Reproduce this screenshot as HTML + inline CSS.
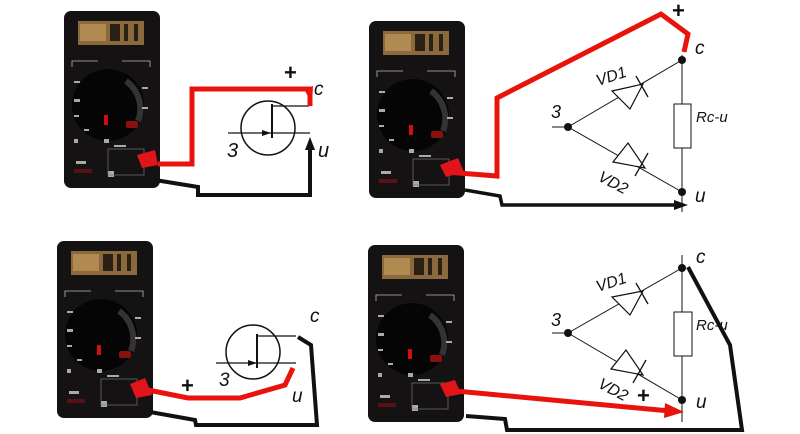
<!DOCTYPE html>
<html><head><meta charset="utf-8"><style>
html,body{margin:0;padding:0;background:#fff;}
svg{display:block;}
text{font-family:"Liberation Sans",sans-serif;font-style:italic;fill:#111;}
</style></head><body>
<svg width="800" height="434" viewBox="0 0 800 434" xmlns="http://www.w3.org/2000/svg">
<defs>
<g id="m">
<rect x="0" y="0" width="96" height="177" rx="7" fill="#141212"/>
<rect x="14" y="10" width="66" height="24" fill="#8a6a3c"/>
<rect x="16" y="13" width="26" height="17" fill="#b08a50"/>
<rect x="46" y="13" width="10" height="17" fill="#2a2016"/>
<rect x="60" y="13" width="4" height="17" fill="#2a2016"/>
<rect x="70" y="13" width="4" height="17" fill="#2a2016"/>
<circle cx="44" cy="94" r="36" fill="#050505"/>
<path d="M62 70 A34 34 0 0 1 74 110" stroke="#333" stroke-width="6" fill="none"/>
<rect x="40" y="104" width="4" height="10" fill="#d01010"/>
<rect x="62" y="110" width="12" height="7" rx="2" fill="#8a1010"/>
<path d="M8 56 v-6 h26 M58 50 h28 v6" stroke="#bbb" stroke-width="0.8" fill="none"/>
<g fill="#aaa"><rect x="10" y="70" width="6" height="2"/><rect x="10" y="88" width="6" height="3"/><rect x="10" y="104" width="5" height="2"/><rect x="20" y="118" width="5" height="2"/><rect x="78" y="76" width="6" height="2"/><rect x="78" y="96" width="6" height="2"/><rect x="10" y="128" width="4" height="4"/><rect x="40" y="128" width="5" height="4"/><rect x="50" y="134" width="12" height="2"/><rect x="12" y="150" width="10" height="3"/><rect x="44" y="160" width="6" height="6"/></g>
<rect x="10" y="158" width="18" height="4" fill="#5a1010"/>
<rect x="44" y="138" width="36" height="26" fill="none" stroke="#777" stroke-width="0.7"/>
</g>
</defs>

<use href="#m" x="64" y="11"/>
<use href="#m" x="369" y="21"/>
<use href="#m" x="57" y="241"/>
<use href="#m" x="368" y="245"/>

<!-- TOP LEFT -->
<circle cx="268" cy="128" r="27" fill="none" stroke="#111" stroke-width="1.5"/>
<line x1="228" y1="133" x2="271" y2="133" stroke="#111" stroke-width="1.3"/>
<polygon points="271,133 262,130 262,136" fill="#111"/>
<line x1="272" y1="104" x2="272" y2="138" stroke="#111" stroke-width="2"/>
<line x1="272" y1="106" x2="309" y2="106" stroke="#111" stroke-width="1.3"/>
<line x1="272" y1="133" x2="310" y2="133" stroke="#111" stroke-width="1.3"/>
<polyline points="158,164 192,164 192,89 310,89 310,106" fill="none" stroke="#e8140c" stroke-width="5"/>
<polygon points="304,89 313,86 312,104" fill="#e8140c"/>
<polyline points="155,180 198,187 198,195 310,195 310,148" fill="none" stroke="#111" stroke-width="4"/>
<polygon points="305,150 315,150 310,137" fill="#111"/>
<polygon points="137,155 155,150 158,165 142,168" fill="#e0141a"/>
<text x="284" y="80" style="font-style:normal;font-weight:bold;font-size:22px">+</text>
<text x="314" y="95" font-size="19">c</text>
<text x="318" y="157" font-size="20">u</text>
<text x="227" y="157" font-size="20">3</text>

<!-- TOP RIGHT -->
<line x1="682" y1="55" x2="682" y2="212" stroke="#111" stroke-width="1"/>
<rect x="674" y="104" width="17" height="44" fill="#fff" stroke="#111" stroke-width="1"/>
<line x1="552" y1="127" x2="568" y2="127" stroke="#111" stroke-width="1"/>
<line x1="568" y1="127" x2="682" y2="60" stroke="#111" stroke-width="1"/>
<line x1="568" y1="127" x2="682" y2="192" stroke="#111" stroke-width="1"/>
<polygon points="612,91 643,84 630,109" fill="#fff" stroke="#111" stroke-width="1.2"/>
<line x1="636" y1="76" x2="648" y2="97" stroke="#111" stroke-width="1.3"/>
<polygon points="613,162 645,168 628,143" fill="#fff" stroke="#111" stroke-width="1.2"/>
<line x1="635" y1="176" x2="648" y2="153" stroke="#111" stroke-width="1.3"/>
<circle cx="568" cy="127" r="4" fill="#111"/>
<circle cx="682" cy="60" r="4" fill="#111"/>
<circle cx="682" cy="192" r="4" fill="#111"/>
<polyline points="446,172 497,176 497,98 661,14 688,34 684,52" fill="none" stroke="#e8140c" stroke-width="5"/>
<polyline points="465,190 500,196 502,205 676,205" fill="none" stroke="#111" stroke-width="3.5"/>
<polygon points="674,200 688,205 674,210" fill="#111"/>
<polygon points="440,165 458,158 464,172 446,177" fill="#e0141a"/>
<text x="672" y="18" style="font-style:normal;font-weight:bold;font-size:22px">+</text>
<text x="695" y="54" font-size="19">c</text>
<text x="695" y="202" font-size="19">u</text>
<text x="551" y="118" font-size="18">3</text>
<text x="598" y="86" font-size="16" transform="rotate(-18 598 86)">VD1</text>
<text x="597" y="180" font-size="16" transform="rotate(28 597 180)">VD2</text>
<text x="696" y="122" font-size="15">Rc-u</text>

<!-- BOTTOM LEFT -->
<circle cx="253" cy="352" r="27" fill="none" stroke="#111" stroke-width="1.5"/>
<line x1="216" y1="363" x2="257" y2="363" stroke="#111" stroke-width="1.3"/>
<polygon points="257,363 248,360 248,366" fill="#111"/>
<line x1="257" y1="334" x2="257" y2="368" stroke="#111" stroke-width="2"/>
<line x1="257" y1="336" x2="296" y2="336" stroke="#111" stroke-width="1.3"/>
<line x1="257" y1="363" x2="296" y2="363" stroke="#111" stroke-width="1.3"/>
<polyline points="148,390 188,398 240,398 285,385 293,368" fill="none" stroke="#e8140c" stroke-width="5"/>
<polyline points="150,412 195,420 196,425 317,425 311,345 298,337" fill="none" stroke="#111" stroke-width="4"/>
<polygon points="130,384 145,378 152,395 136,398" fill="#e0141a"/>
<text x="181" y="393" style="font-style:normal;font-weight:bold;font-size:22px">+</text>
<text x="310" y="322" font-size="19">c</text>
<text x="292" y="402" font-size="19">u</text>
<text x="219" y="386" font-size="19">3</text>

<!-- BOTTOM RIGHT -->
<line x1="682" y1="255" x2="682" y2="422" stroke="#111" stroke-width="1"/>
<rect x="674" y="312" width="18" height="44" fill="#fff" stroke="#111" stroke-width="1"/>
<line x1="552" y1="333" x2="568" y2="333" stroke="#111" stroke-width="1"/>
<line x1="568" y1="333" x2="682" y2="268" stroke="#111" stroke-width="1"/>
<line x1="568" y1="333" x2="682" y2="400" stroke="#111" stroke-width="1"/>
<polygon points="612,297 643,291 630,315" fill="#fff" stroke="#111" stroke-width="1.2"/>
<line x1="636" y1="283" x2="648" y2="304" stroke="#111" stroke-width="1.3"/>
<polygon points="611,369 643,375 626,350" fill="#fff" stroke="#111" stroke-width="1.2"/>
<line x1="633" y1="383" x2="646" y2="360" stroke="#111" stroke-width="1.3"/>
<circle cx="568" cy="333" r="4" fill="#111"/>
<circle cx="682" cy="268" r="4" fill="#111"/>
<circle cx="682" cy="400" r="4" fill="#111"/>
<polyline points="445,390 670,411" fill="none" stroke="#e8140c" stroke-width="5"/>
<polygon points="665,403 684,412 664,418" fill="#e8140c"/>
<polygon points="440,384 455,380 461,394 446,397" fill="#e0141a"/>
<polyline points="466,416 505,419 507,430 742,430 730,345 688,267" fill="none" stroke="#111" stroke-width="4"/>
<text x="637" y="403" style="font-style:normal;font-weight:bold;font-size:22px">+</text>
<text x="696" y="263" font-size="19">c</text>
<text x="696" y="408" font-size="19">u</text>
<text x="551" y="326" font-size="18">3</text>
<text x="598" y="292" font-size="16" transform="rotate(-18 598 292)">VD1</text>
<text x="597" y="387" font-size="16" transform="rotate(28 597 387)">VD2</text>
<text x="696" y="330" font-size="15">Rc-u</text>
</svg>
</body></html>
